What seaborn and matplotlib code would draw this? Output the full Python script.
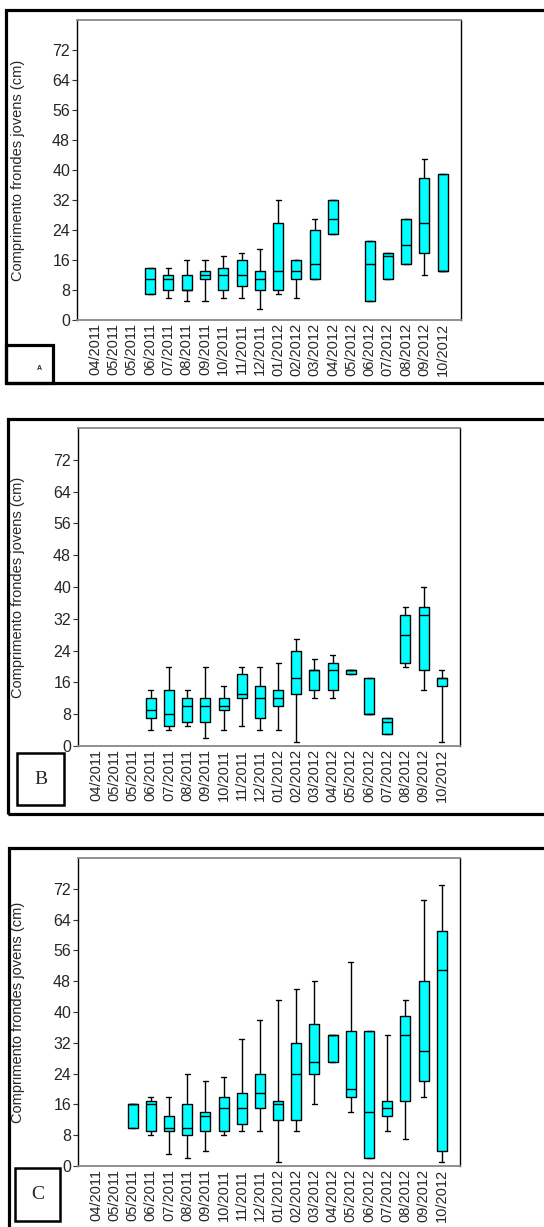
import numpy as np
import pandas as pd
import seaborn as sns
import matplotlib.pyplot as plt
from matplotlib.patches import Rectangle

# rótulos do eixo x (o original repete 05/2011)
months = ["04/2011", "05/2011", "05/2011", "06/2011", "07/2011", "08/2011",
          "09/2011", "10/2011", "11/2011", "12/2011", "01/2012", "02/2012",
          "03/2012", "04/2012", "05/2012", "06/2012", "07/2012", "08/2012",
          "09/2012", "10/2012"]

# resumo de cada caixa: [mínimo, Q1, mediana, Q3, máximo]; None = sem dados
stats_a = [None, None, None,
           [7, 7, 11, 14, 14], [6, 8, 11, 12, 14], [5, 8, 8, 12, 16],
           [5, 11, 12, 13, 16], [6, 8, 12, 14, 17], [6, 9, 12, 16, 18],
           [3, 8, 11, 13, 19], [7, 8, 13, 26, 32], [6, 11, 13, 16, 16],
           [11, 11, 15, 24, 27], [23, 23, 27, 32, 32], None,
           [5, 5, 15, 21, 21], [11, 11, 17, 18, 18], [15, 15, 20, 27, 27],
           [12, 18, 26, 38, 43], [13, 13, 13, 39, 39]]

stats_b = [None, None, None,
           [4, 7, 9, 12, 14], [4, 5, 8, 14, 20], [5, 6, 10, 12, 14],
           [2, 6, 10, 12, 20], [4, 9, 10, 12, 15], [5, 12, 13, 18, 20],
           [4, 7, 12, 15, 20], [4, 10, 12, 14, 21], [1, 13, 17, 24, 27],
           [12, 14, 19, 19, 22], [12, 14, 19, 21, 23], [18, 18, 19, 19, 19],
           [8, 8, 8, 17, 17], [3, 3, 6, 7, 7], [20, 21, 28, 33, 35],
           [14, 19, 33, 35, 40], [1, 15, 17, 17, 19]]

stats_c = [None, None,
           [10, 10, 16, 16, 16], [8, 9, 16, 17, 18], [3, 9, 10, 13, 18],
           [2, 8, 10, 16, 24], [4, 9, 13, 14, 22], [8, 9, 15, 18, 23],
           [9, 11, 15, 19, 33], [9, 15, 19, 24, 38], [1, 12, 16, 17, 43],
           [9, 12, 24, 32, 46], [16, 24, 27, 37, 48], [27, 27, 34, 34, 34],
           [14, 18, 20, 35, 53], [2, 2, 14, 35, 35], [9, 13, 15, 17, 34],
           [7, 17, 34, 39, 43], [18, 22, 30, 48, 69], [1, 4, 51, 61, 73]]

panel_letters = ["A", "B", "C"]
y_ticks = [0, 8, 16, 24, 32, 40, 48, 56, 64, 72]
y_label = "Comprimento frondes jovens (cm)"

W, H = 544, 1227


def to_long(stats):
    rows = []
    for i, s in enumerate(stats):
        if s is None:
            continue
        for v in s:
            rows.append({"mes": i, "comp": v})
    return pd.DataFrame(rows)


def fig_rect(x0, y0, x1, y1):
    # pixels (origem no topo) -> fração da figura
    return [x0 / W, 1 - y1 / H, (x1 - x0) / W, (y1 - y0) / H]


sns.set_style("ticks")
plt.rcParams["font.family"] = ["Liberation Sans", "DejaVu Sans"]

fig = plt.figure(figsize=(W / 100, H / 100), dpi=100)

axes_px = [(77, 20, 461, 320), (78, 428, 460, 746), (78, 858, 460, 1166)]
frames_px = [(6, 10, 600, 383), (8, 419, 600, 814), (9, 848, 600, 1260)]
tag_px = [(6, 345, 53, 383), (17, 753, 64, 805), (15, 1168, 60, 1221)]

for k, stats in enumerate([stats_a, stats_b, stats_c]):
    # moldura externa do painel
    fx0, fy0, fx1, fy1 = frames_px[k]
    r = fig_rect(fx0, fy0, fx1, fy1)
    fig.patches.append(Rectangle((r[0], r[1]), r[2], r[3], transform=fig.transFigure,
                                 fill=False, edgecolor="black", linewidth=2.3,
                                 clip_on=False))

    ax = fig.add_axes(fig_rect(*axes_px[k]))
    df = to_long(stats)
    sns.boxplot(data=df, x="mes", y="comp", order=list(range(len(months))),
                whis=(0, 100), width=0.55, color="#00FFFF", saturation=1,
                linecolor="black", linewidth=1, ax=ax)

    ax.set_ylim(0, 80)
    ax.set_xlim(-1, 20)
    ax.set_yticks(y_ticks)
    ax.set_xticks(range(len(months)))
    ax.set_xticklabels(months, rotation=90, fontsize=10.5)
    ax.tick_params(axis="y", labelsize=11.5, length=3.5, width=0.8, pad=1.5,
                   color="#333333")
    ax.tick_params(axis="x", length=0, pad=2)
    ax.set_xlabel("")
    ax.set_ylabel(y_label, fontsize=10.5)
    x0 = axes_px[k][0]
    ax.yaxis.set_label_coords((25 - x0) / (axes_px[k][2] - x0), 0.5)
    for side in ["left", "right"]:
        ax.spines[side].set_color("black")
        ax.spines[side].set_linewidth(1)
    for side in ["top", "bottom"]:
        ax.spines[side].set_color("#888888")
        ax.spines[side].set_linewidth(1.3)
    ax.spines["top"].set_visible(True)
    ax.spines["right"].set_visible(True)

    # caixinha com a letra do painel
    tx0, ty0, tx1, ty1 = tag_px[k]
    r = fig_rect(tx0, ty0, tx1, ty1)
    fig.patches.append(Rectangle((r[0], r[1]), r[2], r[3], transform=fig.transFigure,
                                 fill=False, edgecolor="black",
                                 linewidth=2.3 if k == 0 else 1.8))
    if k == 0:
        fig.text(39 / W, 1 - 369 / H, panel_letters[k], fontsize=5,
                 fontweight="bold", ha="center", va="center")
    else:
        fig.text((tx0 + tx1) / 2 / W, 1 - (ty0 + ty1) / 2 / H, panel_letters[k],
                 fontsize=14, family=["Liberation Serif", "DejaVu Serif"],
                 ha="center", va="center")

fig.savefig("out.png", dpi=100)
